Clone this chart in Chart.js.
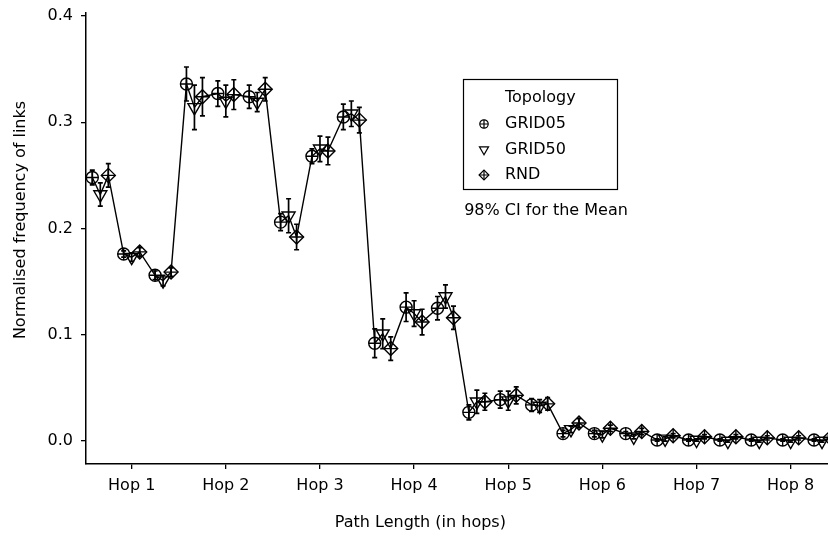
<!DOCTYPE html>
<html>
<head>
<meta charset="utf-8">
<script src="https://cdn.jsdelivr.net/npm/chart.js@4/dist/chart.umd.min.js"></script>
<style>
  html, body { margin: 0; padding: 0; background: #fff; overflow: hidden; }
  #wrap { width: 828px; height: 541px; }
  canvas { display: block; }
</style>
</head>
<body>
<div id="wrap"><canvas id="chart" width="828" height="541"></canvas></div>
<script>
// Interval plot: normalised frequency of links per path length, 3 sub-groups per hop

const hopLabels = ['Hop 1', 'Hop 2', 'Hop 3', 'Hop 4', 'Hop 5', 'Hop 6', 'Hop 7', 'Hop 8'];
const hopTickPos = [1, 4, 7, 10, 13, 16, 19, 22];   // category index of each hop label
const yTicks = [0.0, 0.1, 0.2, 0.3, 0.4];
const topologies = ['GRID05', 'GRID50', 'RND'];

// means, 3 sub-groups per hop (24 categories)
const grid05Mean = [0.248, 0.176, 0.156,  0.336, 0.327, 0.324,  0.206, 0.268, 0.305,  0.092, 0.126, 0.125,
                    0.027, 0.039, 0.034,  0.007, 0.007, 0.007,  0.001, 0.001, 0.001,  0.001, 0.001, 0.001];
const grid50Mean = [0.232, 0.173, 0.151,  0.314, 0.320, 0.319,  0.212, 0.275, 0.308,  0.101, 0.120, 0.136,
                    0.037, 0.038, 0.033,  0.011, 0.006, 0.004,  0.002, 0.001, 0.000,  0.000, 0.000, 0.000];
const rndMean    = [0.250, 0.178, 0.159,  0.324, 0.326, 0.331,  0.192, 0.273, 0.302,  0.087, 0.112, 0.116,
                    0.037, 0.043, 0.035,  0.017, 0.012, 0.009,  0.005, 0.004, 0.004,  0.003, 0.003, 0.003];
// half-width of the 98% CI
const grid05Err  = [0.007, 0.003, 0.004,  0.016, 0.012, 0.011,  0.008, 0.007, 0.012,  0.0135, 0.0135, 0.011,
                    0.007, 0.008, 0.006,  0.003, 0.003, 0.002,  0.001, 0.001, 0.001,  0.001, 0.001, 0.001];
const grid50Err  = [0.011, 0.004, 0.005,  0.021, 0.015, 0.009,  0.016, 0.012, 0.012,  0.014, 0.012, 0.011,
                    0.011, 0.009, 0.006,  0.003, 0.003, 0.002,  0.002, 0.001, 0.001,  0.001, 0.001, 0.001];
const rndErr     = [0.011, 0.004, 0.004,  0.018, 0.014, 0.011,  0.012, 0.013, 0.012,  0.011, 0.012, 0.011,
                    0.008, 0.008, 0.006,  0.004, 0.003, 0.003,  0.002, 0.002, 0.002,  0.002, 0.002, 0.002];

const FONT = 'DejaVu Sans';
const dodge = [-0.255, 0, 0.255];   // offset of each topology inside a category

const means = [grid05Mean, grid50Mean, rndMean];
const errs = [grid05Err, grid50Err, rndErr];

// marker look per topology: main shape + optional cross overlay
const markerStyle = [
  { style: 'circle', radius: 6, rotation: 0, cross: 6 },
  { style: 'triangle', radius: 7.5, rotation: 180, cross: 0 },
  { style: 'rectRot', radius: 7, rotation: 0, cross: 7 }
];

function seriesPoints(k) {
  return means[k].map((v, c) => ({ x: c + dodge[k], y: v, err: errs[k][c] }));
}

// one line through every point in plot order
const linePoints = [];
grid05Mean.forEach((v, c) => {
  for (let k = 0; k < 3; k++) linePoints.push({ x: c + dodge[k], y: means[k][c] });
});

const markerSets = [];
[0, 1, 2].forEach(k => {
  const m = markerStyle[k];
  markerSets.push({
    label: topologies[k],
    data: seriesPoints(k),
    pointStyle: m.style,
    pointRadius: m.radius,
    pointRotation: m.rotation,
    pointBorderColor: '#000',
    pointBackgroundColor: 'rgba(0,0,0,0)',
    pointBorderWidth: 1.4,
    showLine: false,
    order: 0
  });
  if (m.cross) {
    markerSets.push({
      label: topologies[k] + ' cross',
      data: seriesPoints(k),
      pointStyle: 'cross',
      pointRadius: m.cross,
      pointBorderColor: '#000',
      pointBorderWidth: 1.4,
      showLine: false,
      isCross: true,
      order: 0
    });
  }
});

const errorBars = {
  id: 'errorBars',
  afterDatasetsDraw(chart) {
    const ctx = chart.ctx;
    const xs = chart.scales.x, ys = chart.scales.y;
    const area = chart.chartArea;
    ctx.save();
    ctx.beginPath();
    ctx.rect(area.left, area.top, area.right - area.left, area.bottom - area.top);
    ctx.clip();
    ctx.strokeStyle = '#000';
    ctx.lineWidth = 1.7;
    chart.data.datasets.forEach(ds => {
      if (ds.isCross || ds.label === 'line') return;
      ds.data.forEach(p => {
        const px = xs.getPixelForValue(p.x);
        const top = ys.getPixelForValue(p.y + p.err);
        const bot = ys.getPixelForValue(p.y - p.err);
        ctx.beginPath();
        ctx.moveTo(px, top); ctx.lineTo(px, bot);
        ctx.moveTo(px - 2.5, top); ctx.lineTo(px + 2.5, top);
        ctx.moveTo(px - 2.5, bot); ctx.lineTo(px + 2.5, bot);
        ctx.stroke();
      });
    });
    ctx.restore();
  }
};

function legendSymbol(ctx, k, x, y) {
  const m = markerStyle[k];
  const opts = { pointStyle: m.style, rotation: m.rotation, radius: m.radius * 0.7, borderWidth: 1.4 };
  Chart.helpers.drawPoint(ctx, opts, x, y);
  if (m.cross) {
    Chart.helpers.drawPoint(ctx, { pointStyle: 'cross', rotation: 0, radius: m.cross * 0.7, borderWidth: 1.4 }, x, y);
  }
}

const annotations = {
  id: 'annotations',
  afterDraw(chart) {
    const ctx = chart.ctx;
    const xs = chart.scales.x;
    ctx.save();
    ctx.fillStyle = '#000';
    ctx.font = '16px "' + FONT + '"';
    ctx.textAlign = 'center';
    ctx.textBaseline = 'middle';
    // axis titles
    ctx.fillText('Path Length (in hops)', xs.getPixelForValue(10.2), 523);
    ctx.save();
    ctx.translate(21, 220);
    ctx.rotate(-Math.PI / 2);
    ctx.fillText('Normalised frequency of links', 0, 0);
    ctx.restore();

    // legend box
    ctx.strokeStyle = '#000';
    ctx.lineWidth = 1.2;
    ctx.strokeRect(463.5, 79.5, 154, 110);
    ctx.textAlign = 'left';
    ctx.fillText('Topology', 505, 98);
    ctx.fillStyle = 'rgba(0,0,0,0)';
    topologies.forEach((name, k) => {
      legendSymbol(ctx, k, 484, 124 + k * 25.5);
    });
    ctx.fillStyle = '#000';
    topologies.forEach((name, k) => {
      ctx.fillText(name, 505, 124 + k * 25.5);
    });
    ctx.textAlign = 'center';
    ctx.fillText('98% CI for the Mean', 546, 211);
    ctx.restore();
  }
};

new Chart(document.getElementById('chart').getContext('2d'), {
  type: 'scatter',
  data: {
    datasets: [
      ...markerSets,
      {
        label: 'line',
        data: linePoints,
        showLine: true,
        borderColor: '#000',
        borderWidth: 1.4,
        pointRadius: 0,
        tension: 0,
        order: 1
      }
    ]
  },
  options: {
    responsive: false,
    animation: false,
    devicePixelRatio: 1,
    layout: { autoPadding: false, padding: { top: 13, right: 0, left: 0, bottom: 0 } },
    plugins: {
      legend: { display: false },
      tooltip: { enabled: false },
      title: { display: false }
    },
    scales: {
      x: {
        type: 'linear',
        min: -0.456,
        max: 23.19,
        afterBuildTicks: axis => { axis.ticks = hopTickPos.map(v => ({ value: v })); },
        afterFit: s => { s.height = 77; s.paddingLeft = 0; s.paddingRight = 0; },
        grid: { display: true, drawOnChartArea: false, drawTicks: true, tickLength: 5, color: '#000', lineWidth: 1.3 },
        border: { display: true, color: '#000', width: 1.5 },
        ticks: {
          autoSkip: false,
          maxRotation: 0,
          padding: 7,
          color: '#000',
          font: { family: FONT, size: 16 },
          callback: v => hopLabels[hopTickPos.indexOf(v)]
        }
      },
      y: {
        min: -0.0216,
        max: 0.4028,
        afterBuildTicks: axis => { axis.ticks = yTicks.map(v => ({ value: v })); },
        afterFit: s => { s.width = 86; s.paddingTop = 0; s.paddingBottom = 0; },
        grid: { display: true, drawOnChartArea: false, drawTicks: true, tickLength: 5, color: '#000', lineWidth: 1.3 },
        border: { display: true, color: '#000', width: 1.5 },
        ticks: {
          padding: 8,
          color: '#000',
          font: { family: FONT, size: 16 },
          callback: v => v.toFixed(1)
        }
      }
    }
  },
  plugins: [errorBars, annotations]
});
</script>
</body>
</html>
